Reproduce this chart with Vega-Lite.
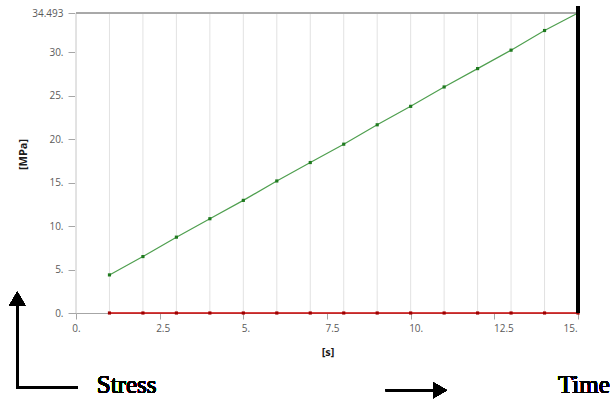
{
  "$schema": "https://vega.github.io/schema/vega-lite/v6.json",
  "width": 502,
  "height": 300,
  "autosize": "none",
  "padding": {"left": 76, "top": 13, "right": 35, "bottom": 87},
  "background": "white",
  "config": {"view": {"stroke": null}, "font": "Open Sans"},
  "data": {
    "values": [
      {"t": 1, "v": 4.38, "s": "A"}, {"t": 2, "v": 6.49, "s": "A"}, {"t": 3, "v": 8.72, "s": "A"},
      {"t": 4, "v": 10.84, "s": "A"}, {"t": 5, "v": 12.95, "s": "A"}, {"t": 6, "v": 15.18, "s": "A"},
      {"t": 7, "v": 17.3, "s": "A"}, {"t": 8, "v": 19.41, "s": "A"}, {"t": 9, "v": 21.64, "s": "A"},
      {"t": 10, "v": 23.76, "s": "A"}, {"t": 11, "v": 25.99, "s": "A"}, {"t": 12, "v": 28.1, "s": "A"},
      {"t": 13, "v": 30.22, "s": "A"}, {"t": 14, "v": 32.48, "s": "A"}, {"t": 15, "v": 34.493, "s": "A"},
      {"t": 1, "v": 0, "s": "B"}, {"t": 2, "v": 0, "s": "B"}, {"t": 3, "v": 0, "s": "B"},
      {"t": 4, "v": 0, "s": "B"}, {"t": 5, "v": 0, "s": "B"}, {"t": 6, "v": 0, "s": "B"},
      {"t": 7, "v": 0, "s": "B"}, {"t": 8, "v": 0, "s": "B"}, {"t": 9, "v": 0, "s": "B"},
      {"t": 10, "v": 0, "s": "B"}, {"t": 11, "v": 0, "s": "B"}, {"t": 12, "v": 0, "s": "B"},
      {"t": 13, "v": 0, "s": "B"}, {"t": 14, "v": 0, "s": "B"}, {"t": 15, "v": 0, "s": "B"}
    ]
  },
  "layer": [
    {
      "transform": [{"filter": "datum.s == 'A'"}],
      "mark": {"type": "rule", "color": "#e2e2e2", "strokeWidth": 1},
      "encoding": {
        "x": {
          "field": "t", "type": "quantitative",
          "scale": {"domain": [0, 15], "nice": false, "zero": false},
          "axis": {
            "values": [0, 2.5, 5, 7.5, 10, 12.5, 15],
            "labelExpr": "datum.value % 1 == 0 ? datum.value + '.' : '' + datum.value",
            "domain": true, "domainColor": "#a6a6a6", "grid": false,
            "tickColor": "#a6a6a6", "tickSize": 6, "labelPadding": 4,
            "labelFlush": false, "labelAlign": "center",
            "labelOffset": {"condition": [
              {"test": "datum.value == 2.5", "value": 3},
              {"test": "datum.value == 5", "value": 2},
              {"test": "datum.value == 7.5", "value": 5},
              {"test": "datum.value == 10", "value": 5},
              {"test": "datum.value == 12.5", "value": 9},
              {"test": "datum.value == 15", "value": -8}
            ], "value": 0},
            "labelFont": "Open Sans", "labelFontSize": 10, "labelColor": "#5a5a5a",
            "title": "[s]", "titleFont": "Open Sans", "titleFontSize": 11, "titleFontWeight": "bold",
            "titleColor": "#1a1a1a", "titleX": 251.5, "titleY": 39, "titleAlign": "center", "titleBaseline": "middle"
          }
        },
        "y": {
          "datum": 0, "type": "quantitative",
          "scale": {"domain": [0, 34.493], "nice": false, "zero": false},
          "axis": {
            "values": [0, 5, 10, 15, 20, 25, 30, 34.493],
            "labelExpr": "datum.value == 34.493 ? '34.493' : datum.value + '.'",
            "domain": false, "grid": false,
            "tickColor": "#a6a6a6", "tickSize": 8, "labelPadding": 5,
            "labelFont": "Open Sans", "labelFontSize": 10, "labelColor": "#5a5a5a",
            "title": "[MPa]", "titleFont": "Open Sans", "titleFontSize": 11, "titleFontWeight": "bold",
            "titleColor": "#1a1a1a", "titleX": -52.5, "titleY": 141, "titleAlign": "center", "titleBaseline": "middle", "titleAngle": 270
          }
        },
        "y2": {"datum": 34.493}
      }
    },
    {
      "mark": {"type": "rule", "color": "#e2e2e2", "strokeWidth": 1},
      "encoding": {
        "x": {"datum": 0, "type": "quantitative", "scale": {"domain": [0, 15], "nice": false, "zero": false}},
        "y": {"datum": 0, "type": "quantitative", "scale": {"domain": [0, 34.493], "nice": false, "zero": false}},
        "y2": {"datum": 34.493}
      }
    },
    {
      "mark": {"type": "rule", "color": "#a8a8a8", "strokeWidth": 1},
      "encoding": {
        "x": {"datum": 0, "type": "quantitative", "scale": {"domain": [0, 15], "nice": false, "zero": false}},
        "x2": {"datum": 15},
        "y": {"datum": 34.493, "type": "quantitative", "scale": {"domain": [0, 34.493], "nice": false, "zero": false}}
      }
    },
    {
      "transform": [{"filter": "datum.s == 'B'"}],
      "mark": {"type": "line", "color": "#c80000", "strokeWidth": 1.5},
      "encoding": {
        "x": {"field": "t", "type": "quantitative", "scale": {"domain": [0, 15], "nice": false, "zero": false}},
        "y": {"field": "v", "type": "quantitative", "scale": {"domain": [0, 34.493], "nice": false, "zero": false}}
      }
    },
    {
      "transform": [{"filter": "datum.s == 'B'"}],
      "mark": {"type": "point", "shape": "square", "filled": true, "size": 10, "opacity": 1, "color": "#a00000"},
      "encoding": {
        "x": {"field": "t", "type": "quantitative", "scale": {"domain": [0, 15], "nice": false, "zero": false}},
        "y": {"field": "v", "type": "quantitative", "scale": {"domain": [0, 34.493], "nice": false, "zero": false}}
      }
    },
    {
      "transform": [{"filter": "datum.s == 'A'"}],
      "mark": {"type": "line", "color": "#4f9f4f", "strokeWidth": 1.2},
      "encoding": {
        "x": {"field": "t", "type": "quantitative", "scale": {"domain": [0, 15], "nice": false, "zero": false}},
        "y": {"field": "v", "type": "quantitative", "scale": {"domain": [0, 34.493], "nice": false, "zero": false}}
      }
    },
    {
      "transform": [{"filter": "datum.s == 'A'"}],
      "mark": {"type": "point", "shape": "square", "filled": true, "size": 10, "opacity": 1, "color": "#1f7a1f"},
      "encoding": {
        "x": {"field": "t", "type": "quantitative", "scale": {"domain": [0, 15], "nice": false, "zero": false}},
        "y": {"field": "v", "type": "quantitative", "scale": {"domain": [0, 34.493], "nice": false, "zero": false}}
      }
    },
    {
      "mark": {"type": "rule", "color": "#000000", "strokeWidth": 3},
      "encoding": {
        "x": {"datum": 15, "type": "quantitative", "scale": {"domain": [0, 15], "nice": false, "zero": false}},
        "y": {"datum": 0, "type": "quantitative", "scale": {"domain": [0, 34.493], "nice": false, "zero": false}},
        "y2": {"datum": 35.25}
      }
    },
    {
      "mark": {"type": "rule", "color": "#000000", "strokeWidth": 2.5},
      "encoding": {
        "x": {"datum": -1.754, "type": "quantitative", "scale": {"domain": [0, 15], "nice": false, "zero": false}},
        "y": {"datum": -8.58, "type": "quantitative", "scale": {"domain": [0, 34.493], "nice": false, "zero": false}},
        "y2": {"datum": 1.2}
      }
    },
    {
      "mark": {"type": "rule", "color": "#000000", "strokeWidth": 2.5},
      "encoding": {
        "x": {"datum": -1.79, "type": "quantitative", "scale": {"domain": [0, 15], "nice": false, "zero": false}},
        "x2": {"datum": 0.04},
        "y": {"datum": -8.58, "type": "quantitative", "scale": {"domain": [0, 34.493], "nice": false, "zero": false}}
      }
    },
    {
      "mark": {"type": "point", "shape": "triangle-up", "filled": true, "size": 256, "opacity": 1, "color": "#000000"},
      "encoding": {
        "x": {"datum": -1.754, "type": "quantitative", "scale": {"domain": [0, 15], "nice": false, "zero": false}},
        "y": {"datum": 1.65, "type": "quantitative", "scale": {"domain": [0, 34.493], "nice": false, "zero": false}}
      }
    },
    {
      "mark": {"type": "rule", "color": "#000000", "strokeWidth": 2.5},
      "encoding": {
        "x": {"datum": 9.26, "type": "quantitative", "scale": {"domain": [0, 15], "nice": false, "zero": false}},
        "x2": {"datum": 10.7},
        "y": {"datum": -8.88, "type": "quantitative", "scale": {"domain": [0, 34.493], "nice": false, "zero": false}}
      }
    },
    {
      "mark": {"type": "point", "shape": "triangle-right", "filled": true, "size": 256, "opacity": 1, "color": "#000000"},
      "encoding": {
        "x": {"datum": 10.875, "type": "quantitative", "scale": {"domain": [0, 15], "nice": false, "zero": false}},
        "y": {"datum": -8.88, "type": "quantitative", "scale": {"domain": [0, 34.493], "nice": false, "zero": false}}
      }
    },
    {
      "mark": {"type": "text", "font": "Liberation Serif", "fontSize": 25, "fontWeight": "normal", "align": "left", "baseline": "alphabetic", "fill": "#000000", "strokeWidth": 0},
      "encoding": {
        "x": {"datum": 0.62, "type": "quantitative", "scale": {"domain": [0, 15], "nice": false, "zero": false}},
        "y": {"datum": -9.16, "type": "quantitative", "scale": {"domain": [0, 34.493], "nice": false, "zero": false}},
        "text": {"value": "Stress"}
      }
    },
    {
      "mark": {"type": "text", "font": "Liberation Serif", "fontSize": 25, "fontWeight": "normal", "align": "left", "baseline": "alphabetic", "fill": "#000000", "strokeWidth": 0},
      "encoding": {
        "x": {"datum": 14.4, "type": "quantitative", "scale": {"domain": [0, 15], "nice": false, "zero": false}},
        "y": {"datum": -9.16, "type": "quantitative", "scale": {"domain": [0, 34.493], "nice": false, "zero": false}},
        "text": {"value": "Time"}
      }
    }
  ]
}
